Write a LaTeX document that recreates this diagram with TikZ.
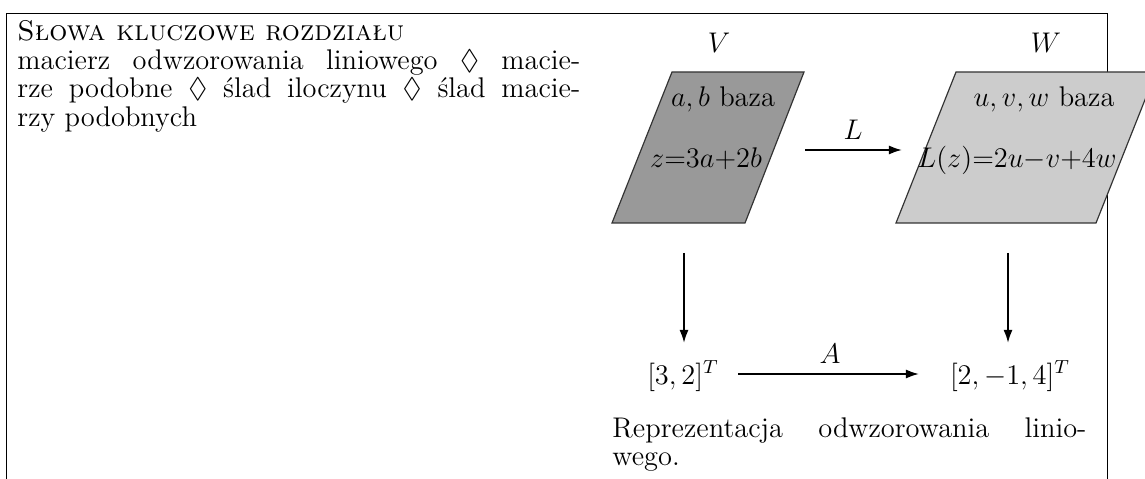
\documentclass[tikz,border=0pt]{standalone}
\usepackage{fontspec}
\usepackage{amssymb}
\usetikzlibrary{arrows.meta}
\begin{document}
\begin{tikzpicture}[x=0.42194pt,y=-0.42194pt,
  frameline/.style={line width=0.4pt},
  txt/.style={anchor=base west, inner sep=0pt, font=\fontsize{12}{14}\selectfont},
  lbl/.style={anchor=base, inner sep=0pt, font=\large},
  para/.style={draw=black!80, line width=0.5pt},
  arr/.style={-{Latex[length=5.5pt,width=3.8pt]}, line width=0.8pt}]
\useasboundingbox (0,0) rectangle (1145,479);
% frame
\draw[frameline] (6,479) -- (6,13.5) -- (1107,13.5) -- (1107,479);
% keywords
\node[txt] (kw0) at (17,41) {\textsc{Słowa kluczowe rozdziału}};
\node[txt] (kw1) at (17,69.4) {\makebox[237.5pt][s]{macierz odwzorowania liniowego $\Diamond$ macie-}};
\node[txt] (kw2) at (17,97.9) {\makebox[237.5pt][s]{rze podobne $\Diamond$ ślad iloczynu $\Diamond$ ślad macie-}};
\node[txt] (kw3) at (17,126.3) {rzy podobnych};
% parallelograms
\draw[para, fill=black!40] (612,223) -- (745,223) -- (804,72) -- (672,72) -- cycle;
\draw[para, fill=black!20] (896,223) -- (1096,223) -- (1156,72) -- (956,72) -- cycle;
% labels
\node[lbl] (V) at (719,53) {$V$};
\node[lbl] (W) at (1046,53) {$W$};
\node[lbl] (ab) at (723,107) {$a,b$ baza};
\node[lbl] (z) at (706,168) {$z{=}3a{+}2b$};
\node[lbl] (uvw) at (1044,107) {$u,v,w$ baza};
\node[lbl] (Lz) at (1017,168) {$L(z){=}2u{-}v{+}4w$};
% L arrow
\coordinate (Ls) at (805,150);
\coordinate (Le) at (902,150);
\draw[arr] (Ls) -- (Le);
\node[lbl] (Llab) at (853,140) {$L$};
% vertical arrows
\coordinate (Vd) at (684,253);
\coordinate (Vv) at (684,343);
\coordinate (Wd) at (1008,253);
\coordinate (Wv) at (1008,343);
\draw[arr] (Vd) -- (Vv);
\draw[arr] (Wd) -- (Wv);
% vectors
\node[lbl] (x) at (683,384) {$[3,2]^T$};
\node[lbl] (y) at (1010,384) {$[2,-1,4]^T$};
\coordinate (As) at (738,374);
\coordinate (Ae) at (919,374);
\draw[arr] (As) -- (Ae);
\node[lbl] (Alab) at (830,363) {$A$};
% caption
\node[txt] (cap1) at (612,437) {\makebox[200pt][s]{Reprezentacja odwzorowania linio-}};
\node[txt] (cap2) at (612,465.4) {wego.};
\end{tikzpicture}
\end{document}
